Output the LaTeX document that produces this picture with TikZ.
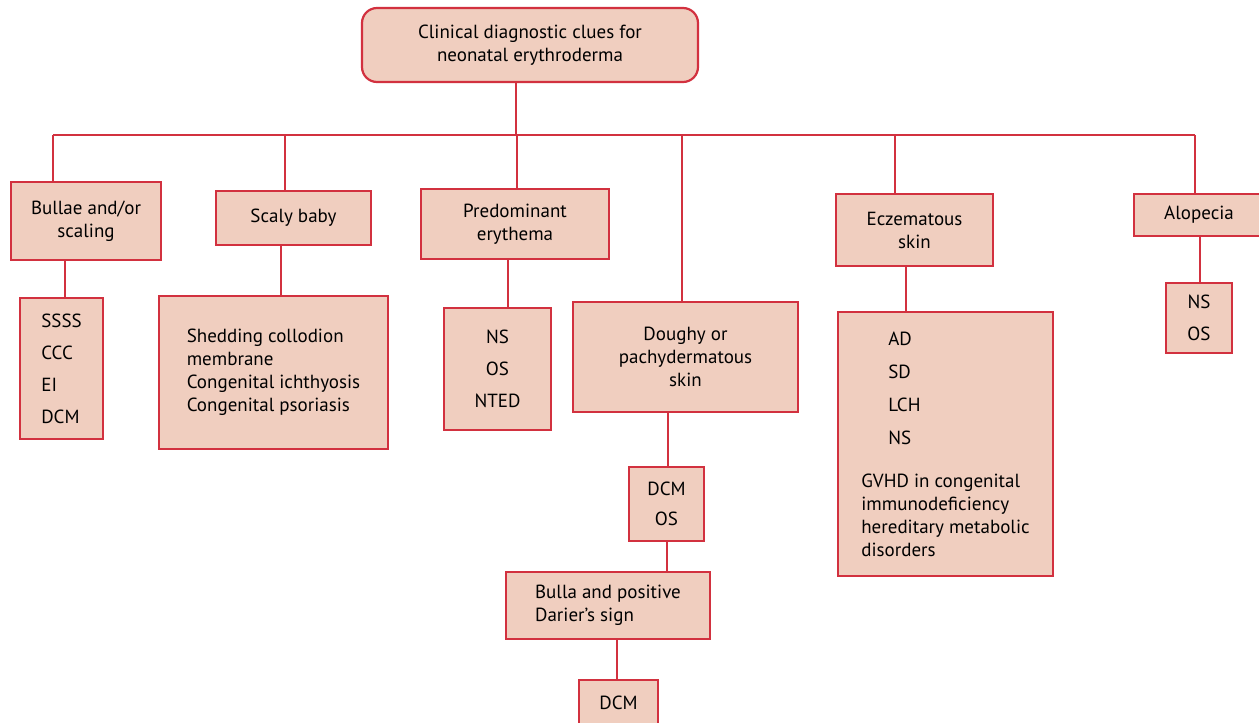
\documentclass[tikz,border=0pt]{standalone}
\usepackage{fontspec}
\setmainfont{PT Sans}
\usetikzlibrary{positioning}
\definecolor{edge}{HTML}{D2313F}
\definecolor{skin}{HTML}{F0CEBF}
\tikzset{
  box/.style={draw=edge,fill=skin,line width=1.1pt,inner sep=0pt,align=center,
    font=\fontsize{9.5}{11.5}\selectfont,text=black},
  list/.style={box,align=left},
  link/.style={draw=edge,line width=1.1pt},
}
\begin{document}
\begin{tikzpicture}[x=0.5pt,y=-0.5pt]
\useasboundingbox (0,0) rectangle (1259,723);
% top
\node[box,rounded corners=7.5pt,minimum width=168pt,minimum height=37pt] (root) at (530,45) {Clinical diagnostic clues for\\neonatal erythroderma};
% first row
\node[box,minimum width=75pt,minimum height=39pt] (bul) at (86,221) {Bullae and/or\\scaling};
\node[box,minimum width=77.5pt,minimum height=27pt] (scl) at (293.5,218) {Scaly baby};
\node[box,minimum width=94pt,minimum height=35pt] (pre) at (515,224) {Predominant\\erythema};
\node[box,minimum width=112.5pt,minimum height=55pt] (dou) at (685.5,357) {Doughy or\\pachydermatous\\skin};
\node[box,minimum width=78.5pt,minimum height=36pt] (ecz) at (914.5,230) {Eczematous\\skin};
\node[box,minimum width=65pt,minimum height=21pt] (alo) at (1199,215) {Alopecia};
% lists
\node[list,minimum width=41.5pt,minimum height=70.5pt] (bulL) at (61.5,368.5) {SSSS\\[4.5pt]CCC\\[4.5pt]EI\\[4.5pt]DCM};
\node[list,minimum width=114.5pt,minimum height=76.5pt] (sclL) at (273.5,372.5) {Shedding collodion\\membrane\\Congenital ichthyosis\\Congenital psoriasis};
\node[box,minimum width=53.5pt,minimum height=61pt] (preL) at (497.5,369) {NS\\[4.5pt]OS\\[4.5pt]NTED};
\node[box,minimum width=37.5pt,minimum height=37pt] (douL) at (666.5,504) {DCM\\[3.5pt]OS};
\node[list,minimum width=107.5pt,minimum height=132pt] (eczL) at (945.5,444) {\hspace*{13.5pt}AD\\[5pt]\hspace*{13.5pt}SD\\[5pt]\hspace*{13.5pt}LCH\\[5pt]\hspace*{13.5pt}NS\\[10pt]GVHD in congenital\\immunodeficiency\\hereditary metabolic\\disorders};
\node[box,minimum width=33pt,minimum height=35pt] (aloL) at (1199,318) {NS\\[4.5pt]OS};
\node[list,minimum width=102pt,minimum height=33.5pt] (bla) at (608,605.5) {Bulla and positive\\Darier's sign};
\node[box,minimum width=39.5pt,minimum height=23pt] (dcm) at (618.5,703) {DCM};
% bus
\coordinate (t1) at (53,135);
\coordinate (t2) at (285,135);
\coordinate (t3) at (517,135);
\coordinate (t4) at (682,135);
\coordinate (t5) at (895,135);
\coordinate (t6) at (1195,135);
\draw[link] (t1) -- (t6);
\draw[link] ([xshift=-7pt]root.south) -- ([xshift=-7pt]root.south |- t1);
\foreach \t/\n in {t1/bul,t2/scl,t3/pre,t4/dou,t5/ecz,t6/alo}
  \draw[link] (\t) -- (\t |- \n.north);
% stems
\draw[link] ([xshift=-10.5pt]bul.south) -- ([xshift=-10.5pt]bul.south |- bulL.north);
\draw[link] ([xshift=-6.25pt]scl.south) -- ([xshift=-6.25pt]scl.south |- sclL.north);
\draw[link] ([xshift=-3.5pt]pre.south) -- ([xshift=-3.5pt]pre.south |- preL.north);
\draw[link] ([xshift=-8.75pt]dou.south) -- ([xshift=-8.75pt]dou.south |- douL.north);
\draw[link] ([xshift=-4.25pt]ecz.south) -- ([xshift=-4.25pt]ecz.south |- eczL.north);
\draw[link] ([xshift=0.5pt]alo.south) -- ([xshift=0.5pt]alo.south |- aloL.north);
\draw[link] ([xshift=0.25pt]douL.south) -- ([xshift=0.25pt]douL.south |- bla.north);
\draw[link] ([xshift=4.5pt]bla.south) -- ([xshift=4.5pt]bla.south |- dcm.north);
\end{tikzpicture}
\end{document}
